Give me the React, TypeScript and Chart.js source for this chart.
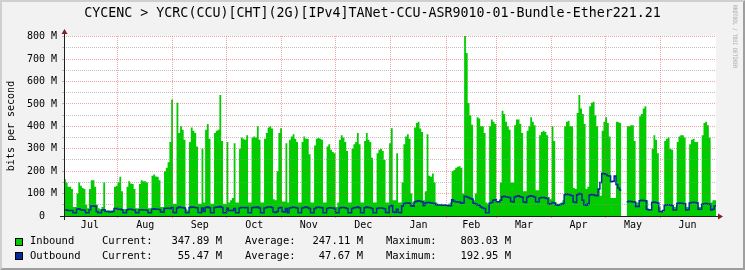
import React, { useEffect, useRef } from "react";
import { Chart, registerables } from "chart.js";

Chart.register(...registerables);

// ---- daily averages in M bit/s, first sample day = Jul 2 ----
const inJul = [165,150,130,130,120,40,40, 100,150,135,125,120,50,35, 120,160,160,130,50,35,30, 40,150,25,25,25,25,25, 130,135];
const inAug = [150,175,110,30,30, 130,155,145,143,120,35,35, 143,160,155,155,150,35,35, 180,185,176,175,160,40,40, 200,215,240,330,520];
const inSep = [55,55, 505,370,400,385,340, 30,25, 330,395,380,370,310, 55,55, 300,60,385,410,345, 55,55, 370,380,385,540,335, 55,55];
const inOct = [330,60,70,80,325, 60,60, 300,350,345,340,360, 60,60, 350,355,350,400,340, 60,60, 345,370,395,400,390, 75,70,200, 370,392];
const inNov = [65,65,325,60, 340,355,365,345,330, 60,60, 330,355,345,345,275, 60,60, 315,345,348,345,340, 60,60, 310,320,295,285,280];
const inDec = [40,60, 340,360,350,330,290, 60,60, 300,320,330,370,320, 60,60, 335,370,340,330,260, 60,60, 280,295,300,290,250, 60,60, 325];
const inJan = [392, 70,70, 280, 60,60, 150,320,355,365,345, 100,60, 395,415,420,390,375, 70, 110,365,180,175,190,150, 60,55,52,55,50,50];
const inFeb = [50,55,60, 200,205,215,220,222, 215,100, 803,727,504,450,407, 70,100, 440,435,400,400,370, 60,55, 400,430,420,410];
const inMar = [65,60,150, 470,455,420,400,385, 150,150, 405,430,430,410,370, 110,110, 380,400,440,420,405, 115,115, 360,375,380,375,360, 85,75];
const inApr = [400,335, 60,55,55,60,70, 400,420,425,400,400, 125,120, 460,540,480,455,410, 120,130, 490,505,510,450,400, 120,90, 380,420];
const inMay = [440,415,355, 80,80,80, 420,418,415, null,null,null, 400,400,405,405,335, 60,60, 445,455,480,490, 70,30,30, 300,360,340,280, 40];
const inJun = [20,20, 335,345,350,300,295, 40,40, 330,355,360,360,350, 40,40, 320,340,345,330,330, 40,40, 360,415,420,405,350, 60,70, 70];

const outJul = [27,27,25,25,24,15,14, 30,32,28,27,26,15,14, 28,45,45,44,20,15,14, 27,28,20,20,18,18,20, 34,34];
const outAug = [30,30,28,15,14, 28,30,30,28,27,15,14, 28,28,27,27,26,15,14, 30,32,30,30,29,18,17, 34,35,35,34,38];
const outSep = [16,15, 36,40,38,37,36, 15,14, 38,40,39,38,37, 16,15, 36,20,38,40,37, 15,14, 38,39,40,42,38, 15,14];
const outOct = [35,25,24,25,34, 15,14, 36,38,38,37,38, 15,14, 37,39,38,40,36, 15,14, 36,38,40,40,38, 18,16,20, 36,38];
const outNov = [20,18,34,15, 36,38,39,38,36, 15,14, 36,38,40,38,34, 15,14, 34,38,39,38,37, 15,14, 34,37,36,36,34];
const outDec = [15,14, 36,38,38,37,34, 15,14, 34,37,38,40,37, 15,14, 37,40,38,37,33, 15,14, 33,36,36,35,32, 16,15, 42];
const outJan = [48, 18,16, 30, 16,15, 45,55,58,58,57, 46,44, 62,66,68,66,64, 47, 58,60,60,58,57,56, 50,49,49,48,48,49];
const outFeb = [47,46,46, 72,66,64,63,62, 57,58, 88,86,82,78,76, 57,55, 50,48,40,36,34, 15,14, 57,60,70,72];
const outMar = [64,62,70, 86,88,86,84,82, 65,62, 85,88,90,86,84, 62,60, 84,88,90,88,85, 64,62, 80,82,82,80,78, 55,52];
const outApr = [60,58, 50,48,50,52,55, 95,98,96,94,90, 62,60, 95,100,98,70,50, 48,55, 94,96,95,92,90, 120,150, 190,188];
const outMay = [185,180,178, 153,155,179, 140,125,116, null,null,null, 64,66,65,63,62, 42,42, 68,70,69,68, 30,27,28, 60,62,60,58, 20];
const outJun = [19,25, 48,50,50,49,47, 27,27, 56,58,57,56,55, 27,28, 58,60,61,60,58, 30,30, 52,55,56,54,52, 27,30, 45];

const inbound: (number | null)[] = [...inJul, ...inAug, ...inSep, ...inOct, ...inNov, ...inDec, ...inJan, ...inFeb, ...inMar, ...inApr, ...inMay, ...inJun];
const outbound: (number | null)[] = [...outJul, ...outAug, ...outSep, ...outOct, ...outNov, ...outDec, ...outJan, ...outFeb, ...outMar, ...outApr, ...outMay, ...outJun];

const monthNames = ["Jul", "Aug", "Sep", "Oct", "Nov", "Dec", "Jan", "Feb", "Mar", "Apr", "May", "Jun"];
const monthDays = [31, 31, 30, 31, 30, 31, 31, 28, 31, 30, 31, 30];
const firstMonthStart = -1; // Jul 1 relative to the first sample day
const yMajor = [0, 100, 200, 300, 400, 500, 600, 700, 800];
const yMinor = [50, 150, 250, 350, 450, 550, 650, 750];

const titleText = "CYCENC > YCRC(CCU)[CHT](2G)[IPv4]TANet-CCU-ASR9010-01-Bundle-Ether221.21";
const legendNames = ["Inbound", "Outbound"];
const legendColors = ["#00CC00", "#002A97"];
const legendCurrent = ["347.89 M", "55.47 M"];
const legendAverage = ["247.11 M", "47.67 M"];
const legendMaximum = ["803.03 M", "192.95 M"];

const MONO = '"DejaVu Sans Mono", monospace';
const GRID = "rgba(143,143,143,0.55)";
const MGRID = "rgba(222,79,79,0.5)";

function toSteps(vals: (number | null)[]) {
  const pts: { x: number; y: number | null }[] = [];
  vals.forEach((v, i) => {
    if (v === null) {
      pts.push({ x: i + 0.5, y: null });
      return;
    }
    pts.push({ x: i, y: v }, { x: i + 1, y: v });
  });
  return pts;
}

const monthStarts: number[] = [];
{
  let acc = firstMonthStart;
  for (const d of monthDays) {
    monthStarts.push(acc);
    acc += d;
  }
  monthStarts.push(acc);
}
const gridDays = monthStarts.slice(1, monthDays.length);
const labelDays = monthDays.map((d, i) => monthStarts[i] + d / 2);

const rrdPlugin = {
  id: "rrdDecor",
  beforeDraw(chart: any) {
    const { ctx, chartArea: a, width, height } = chart;
    ctx.save();
    ctx.fillStyle = "#F2F2F2";
    ctx.fillRect(0, 0, width, height);
    ctx.fillStyle = "#CFCFCF";
    ctx.beginPath();
    ctx.moveTo(0, height);
    ctx.lineTo(2, height - 2);
    ctx.lineTo(2, 2);
    ctx.lineTo(width - 2, 2);
    ctx.lineTo(width, 0);
    ctx.lineTo(0, 0);
    ctx.closePath();
    ctx.fill();
    ctx.fillStyle = "#9E9E9E";
    ctx.beginPath();
    ctx.moveTo(2, height - 2);
    ctx.lineTo(width - 2, height - 2);
    ctx.lineTo(width - 2, 2);
    ctx.lineTo(width, 0);
    ctx.lineTo(width, height);
    ctx.lineTo(0, height);
    ctx.closePath();
    ctx.fill();
    ctx.fillStyle = "#FFFFFF";
    ctx.fillRect(a.left, a.top, a.right - a.left, a.bottom - a.top);
    ctx.restore();
  },
  afterDraw(chart: any) {
    const { ctx, chartArea: a, width } = chart;
    ctx.save();
    // axes
    ctx.strokeStyle = "#1F1F1F";
    ctx.lineWidth = 1;
    ctx.beginPath();
    ctx.moveTo(a.left - 4, a.bottom + 0.5);
    ctx.lineTo(a.right + 4, a.bottom + 0.5);
    ctx.moveTo(a.left + 0.5, a.bottom + 4);
    ctx.lineTo(a.left + 0.5, a.top - 4);
    ctx.stroke();
    // arrows
    ctx.fillStyle = "#801F1F";
    ctx.beginPath();
    ctx.moveTo(a.right + 2, a.bottom + 0.5 - 3);
    ctx.lineTo(a.right + 2, a.bottom + 0.5 + 3);
    ctx.lineTo(a.right + 7, a.bottom + 0.5);
    ctx.closePath();
    ctx.fill();
    ctx.beginPath();
    ctx.moveTo(a.left + 0.5 - 3, a.top - 2);
    ctx.lineTo(a.left + 0.5 + 3, a.top - 2);
    ctx.lineTo(a.left + 0.5, a.top - 7);
    ctx.closePath();
    ctx.fill();

    // title
    ctx.fillStyle = "#000";
    ctx.font = `13.3px ${MONO}`;
    ctx.textAlign = "center";
    ctx.textBaseline = "middle";
    ctx.fillText(titleText, width / 2, 14);

    // y axis title
    ctx.save();
    ctx.translate(11, (a.top + a.bottom) / 2);
    ctx.rotate(-Math.PI / 2);
    ctx.font = `10px ${MONO}`;
    ctx.fillText("bits per second", 0, 0);
    ctx.restore();

    // legend
    ctx.font = `10.5px ${MONO}`;
    legendNames.forEach((name, r) => {
      const y = 241.5 + r * 14.5;
      ctx.fillStyle = legendColors[r];
      ctx.fillRect(15, Math.round(y) - 4, 8, 8);
      ctx.strokeStyle = "#000";
      ctx.lineWidth = 1;
      ctx.strokeRect(15.5, Math.round(y) - 3.5, 7, 7);
      ctx.fillStyle = "#000";
      ctx.textAlign = "left";
      ctx.fillText(name, 30, y);
      ctx.fillText("Current:", 102, y);
      ctx.fillText("Average:", 245, y);
      ctx.fillText("Maximum:", 386, y);
      ctx.textAlign = "right";
      ctx.fillText(legendCurrent[r], 222, y);
      ctx.fillText(legendAverage[r], 363, y);
      ctx.fillText(legendMaximum[r], 511, y);
    });

    // watermark
    ctx.save();
    ctx.font = `6px ${MONO}`;
    const wm = "RRDTOOL / TOBI OETIKER";
    const w = ctx.measureText(wm).width;
    ctx.translate(735, 5);
    ctx.rotate(Math.PI / 2);
    ctx.scale(63 / w, 1);
    ctx.fillStyle = "#AAAAAA";
    ctx.textAlign = "left";
    ctx.textBaseline = "middle";
    ctx.fillText(wm, 0, 0);
    ctx.restore();

    ctx.restore();
  },
};

export default function App() {
  const ref = useRef<HTMLCanvasElement | null>(null);

  useEffect(() => {
    document.body.style.margin = "0";
    const canvas = ref.current;
    if (!canvas) return;
    const total = inbound.length;
    const yMax = Math.max(...(inbound.filter((v) => v !== null) as number[]));
    const chart = new Chart(canvas, {
      type: "line",
      data: {
        datasets: [
          {
            label: "Outbound",
            data: toSteps(outbound) as any,
            borderColor: "#002A97",
            borderWidth: 1.5,
            fill: false,
            pointRadius: 0,
            tension: 0,
            order: 0,
            xAxisID: "x",
            yAxisID: "y",
          },
          {
            label: "Inbound",
            data: toSteps(inbound) as any,
            borderColor: "rgba(0,0,0,0)",
            borderWidth: 0,
            backgroundColor: "#00CC00",
            fill: "origin",
            pointRadius: 0,
            tension: 0,
            order: 1,
            xAxisID: "x",
            yAxisID: "y",
          },
        ],
      },
      options: {
        responsive: false,
        animation: false,
        devicePixelRatio: 1,
        events: [],
        layout: { padding: { top: 36, right: 29, left: 0, bottom: 0 } },
        plugins: {
          legend: { display: false },
          title: { display: false },
          tooltip: { enabled: false },
        },
        scales: {
          x: {
            type: "linear",
            position: "bottom",
            weight: 0,
            min: 0,
            max: total,
            afterBuildTicks: (s: any) => {
              s.ticks = gridDays.map((v) => ({ value: v }));
            },
            afterFit: (s: any) => {
              s.height = 0;
            },
            grid: { color: MGRID, lineWidth: 1, drawTicks: true, tickLength: 2, tickColor: MGRID, z: 1 } as any,
            border: { display: false, dash: [1, 1] },
            ticks: { display: false },
          },
          xl: {
            type: "linear",
            axis: "x",
            position: "bottom",
            weight: 1,
            min: 0,
            max: total,
            afterBuildTicks: (s: any) => {
              s.ticks = labelDays.map((v) => ({ value: v }));
            },
            afterFit: (s: any) => {
              s.height = 54;
            },
            grid: { display: false, drawTicks: false },
            border: { display: false },
            ticks: {
              autoSkip: false,
              maxRotation: 0,
              minRotation: 0,
              padding: 3,
              color: "#000",
              font: { family: MONO, size: 10 },
              callback: (_v: any, i: number) => monthNames[i],
            },
          } as any,
          y: {
            type: "linear",
            position: "left",
            min: 0,
            max: yMax,
            afterBuildTicks: (s: any) => {
              s.ticks = [...yMajor, ...yMinor].sort((p, q) => p - q).map((v) => ({ value: v }));
            },
            afterFit: (s: any) => {
              s.width = 64;
            },
            grid: {
              color: (c: any) => (yMajor.includes(c.tick?.value) ? MGRID : GRID),
              tickColor: (c: any) => (yMajor.includes(c.tick?.value) ? MGRID : GRID),
              lineWidth: 1,
              drawTicks: true,
              tickLength: 2,
              z: 1,
            } as any,
            border: { display: false, dash: [1, 1] },
            ticks: {
              autoSkip: false,
              padding: 5,
              color: "#000",
              font: { family: MONO, size: 10 },
              callback: (v: any) => (yMajor.includes(v) ? (v === 0 ? "0  " : `${v} M`) : ""),
            },
          },
        },
      },
      plugins: [rrdPlugin],
    });
    return () => chart.destroy();
  }, []);

  return <canvas ref={ref} width={745} height={270} style={{ display: "block" }} />;
}
